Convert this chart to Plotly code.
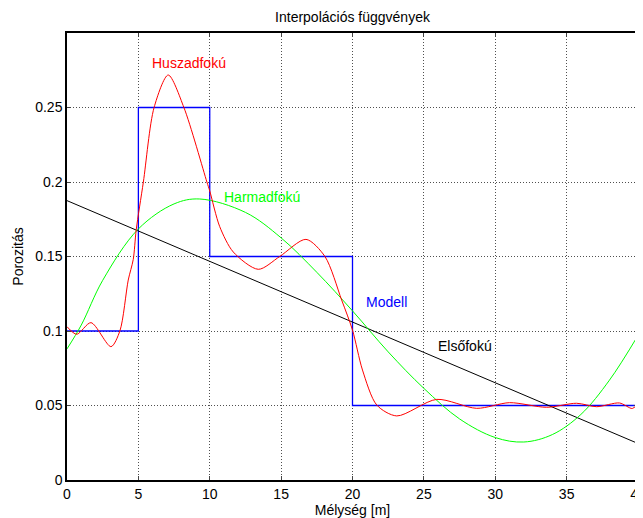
import plotly.graph_objects as go

# Model (step)
model_x = [0, 5, 5, 10, 10, 20, 20, 40]
model_y = [0.1, 0.1, 0.25, 0.25, 0.15, 0.15, 0.05, 0.05]

# First-degree (linear)
lin_x = [0, 40]
lin_y = [0.1875, 0.0245]

# Third-degree
cub_x = [0, 1, 2.5, 5, 7.5, 9.3, 12.5, 15, 17.5, 20, 22.5, 25, 27.5, 30, 32, 34, 36, 38, 40]
cub_y = [0.088, 0.104, 0.134, 0.1685, 0.1853, 0.1886, 0.1796, 0.1625, 0.1394, 0.1135,
         0.086, 0.0615, 0.041, 0.0285, 0.0255, 0.0305, 0.044, 0.067, 0.097]

# Twentieth-degree
p20_x = [0, 0.68, 1.68, 3.08, 3.71, 4.29, 4.64, 4.85, 5.35, 6.1, 7.09, 8.19, 9.8, 10,
         10.7, 11.65, 13.4, 14.9, 16.74, 18.07, 19.24, 20, 20.7, 21.7, 23.1, 25.9,
         28.7, 31.0, 33.6, 35.7, 37.1, 38.7, 39.6, 40]
p20_y = [0.1029, 0.0978, 0.1056, 0.0895, 0.1002, 0.1342, 0.148, 0.168, 0.2, 0.25,
         0.2718, 0.25, 0.2, 0.1940, 0.17, 0.153, 0.1414, 0.15, 0.1615, 0.15, 0.1208,
         0.1006, 0.0738, 0.0503, 0.043, 0.0541, 0.0481, 0.0519, 0.0488, 0.0515,
         0.0492, 0.0517, 0.048, 0.051]

x_ticks = [0, 5, 10, 15, 20, 25, 30, 35, 40]
y_ticks = [0, 0.05, 0.1, 0.15, 0.2, 0.25]
y_ticktext = ["0", "0.05", "0.1", "0.15", "0.2", "0.25"]

FONT = "Liberation Sans, Arial, sans-serif"
FS = 14
W, H = 635, 510  # page has an 8px body margin

fig = go.Figure()
fig.add_trace(go.Scatter(x=model_x, y=model_y, mode="lines",
                         line=dict(color="#0000ff", width=1.3)))
fig.add_trace(go.Scatter(x=lin_x, y=lin_y, mode="lines",
                         line=dict(color="#000000", width=1)))
fig.add_trace(go.Scatter(x=cub_x, y=cub_y, mode="lines",
                         line=dict(color="#00ff00", width=1, shape="spline", smoothing=1)))
fig.add_trace(go.Scatter(x=p20_x, y=p20_y, mode="lines",
                         line=dict(color="#ff0000", width=1, shape="spline", smoothing=0.8)))

for txt, x, y, col in [("Huszadfokú", 8.58, 0.2799, "#ff0000"),
                       ("Harmadfokú", 13.66, 0.1897, "#00ff00"),
                       ("Modell", 22.4, 0.1196, "#0000ff"),
                       ("Elsőfokú", 27.87, 0.0899, "#000000")]:
    fig.add_annotation(x=x, y=y, text=txt, showarrow=False,
                       font=dict(family=FONT, size=FS, color=col))

fig.update_layout(
    width=W, height=H,
    margin=dict(l=59, r=5, t=25, b=38),
    paper_bgcolor="white", plot_bgcolor="white",
    showlegend=False,
    font=dict(family=FONT, size=FS, color="black"),
    title=dict(text="Interpolációs függvények", x=(59 + 630) / 2 / W, xanchor="center",
               y=1 - 9 / H, yanchor="middle", font=dict(family=FONT, size=FS)),
)
grid = dict(showgrid=True, gridcolor="#505050", griddash="1px,2px", gridwidth=1)
fig.update_xaxes(range=[0, 40], tickvals=x_ticks, ticks="inside", ticklen=4,
                 showline=True, linecolor="black", linewidth=1.5, mirror="ticks",
                 zeroline=False, automargin=False, ticklabeloverflow="allow",
                 title=dict(text="Mélység [m]", standoff=0, font=dict(size=FS)),
                 tickfont=dict(size=FS), **grid)
fig.update_yaxes(range=[0, 0.3], tickvals=y_ticks, ticktext=y_ticktext,
                 ticks="inside", ticklen=4,
                 showline=True, linecolor="black", linewidth=1.5, mirror="ticks",
                 zeroline=False, automargin=False,
                 title=dict(text="Porozitás", standoff=8, font=dict(size=FS)),
                 tickfont=dict(size=FS), **grid)

fig.write_html("out.html")
